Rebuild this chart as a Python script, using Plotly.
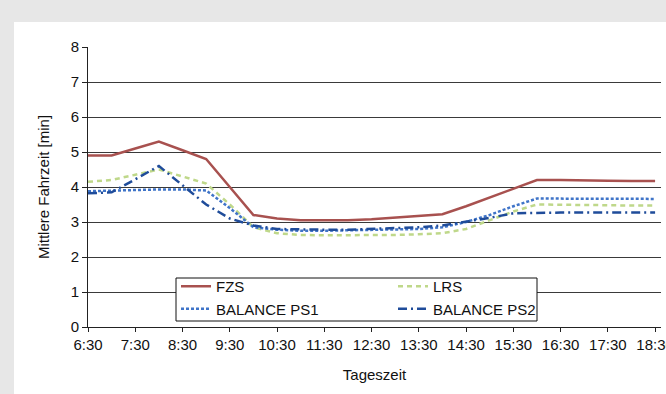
import plotly.graph_objects as go

# Half-hourly time of day, 6:30 .. 18:30
times = ["6:30", "7:00", "7:30", "8:00", "8:30", "9:00", "9:30", "10:00", "10:30",
         "11:00", "11:30", "12:00", "12:30", "13:00", "13:30", "14:00", "14:30",
         "15:00", "15:30", "16:00", "16:30", "17:00", "17:30", "18:00", "18:30"]
tick_labels = times[::2]

# Mean travel time [min] per strategy
fzs = [4.9, 4.9, 5.1, 5.3, 5.05, 4.8, 4.0, 3.2, 3.1, 3.05, 3.05, 3.05, 3.08,
       3.12, 3.17, 3.22, 3.45, 3.7, 3.95, 4.2, 4.2, 4.2, 4.18, 4.17, 4.17]
lrs = [4.15, 4.2, 4.35, 4.5, 4.3, 4.1, 3.5, 2.85, 2.68, 2.63, 2.62, 2.62, 2.63,
       2.63, 2.65, 2.68, 2.8, 3.05, 3.3, 3.5, 3.5, 3.48, 3.48, 3.47, 3.47]
ps1 = [3.88, 3.9, 3.92, 3.93, 3.93, 3.9, 3.4, 2.85, 2.78, 2.75, 2.75, 2.76, 2.77,
       2.78, 2.8, 2.85, 3.0, 3.2, 3.45, 3.67, 3.67, 3.67, 3.66, 3.66, 3.66]
ps2 = [3.82, 3.85, 4.22, 4.6, 4.05, 3.5, 3.1, 2.9, 2.8, 2.78, 2.78, 2.78, 2.8,
       2.82, 2.85, 2.9, 3.0, 3.12, 3.25, 3.27, 3.27, 3.27, 3.27, 3.27, 3.27]

FONT = "Liberation Sans, Arial, sans-serif"
FS = 15

fig = go.Figure()
fig.add_trace(go.Scatter(x=times, y=fzs, name="FZS", mode="lines",
                         line=dict(color="#a8514f", width=2.5)))
fig.add_trace(go.Scatter(x=times, y=lrs, name="LRS", mode="lines",
                         line=dict(color="#bfd88a", width=2.5, dash="5px,4px")))
fig.add_trace(go.Scatter(x=times, y=ps1, name="BALANCE PS1", mode="lines",
                         line=dict(color="#3f74c8", width=2.5, dash="3px,2px")))
fig.add_trace(go.Scatter(x=times, y=ps2, name="BALANCE PS2", mode="lines",
                         line=dict(color="#1f4c9a", width=2.5, dash="9px,4px,2px,4px")))

L, R, T, B = 88, 5, 47, 67
W, H = 666, 394
pw, ph = W - L - R, H - T - B
base = H - B  # pixel row of the x axis


def px_x(x):
    return (x - L) / pw


def px_y(y):
    return (base - y) / ph


# White page area over the grey frame
fig.add_shape(type="rect", xref="paper", yref="paper", layer="below",
              x0=px_x(14), x1=px_x(W + 5), y0=px_y(H + 5), y1=px_y(22),
              fillcolor="white", line=dict(width=0))
# Legend frame
fig.add_shape(type="rect", xref="paper", yref="paper", layer="above",
              x0=px_x(176), x1=px_x(537), y0=px_y(321), y1=px_y(278),
              fillcolor="white", line=dict(color="#111", width=1))

fig.update_layout(
    template="none",
    width=W, height=H,
    margin=dict(l=L, r=R, t=T, b=B, pad=0),
    paper_bgcolor="#e7e7e7",
    plot_bgcolor="white",
    font=dict(family=FONT, size=FS, color="#111"),
    showlegend=True,
    legend=dict(
        orientation="h",
        x=px_x(176), y=px_y(270),
        xanchor="left", yanchor="top",
        bgcolor="rgba(0,0,0,0)", borderwidth=0,
        entrywidth=172, entrywidthmode="pixels",
        font=dict(family=FONT, size=FS, color="#111"),
        tracegroupgap=0, itemwidth=30,
    ),
    xaxis=dict(
        type="category",
        range=[0, 24.25],
        tickmode="array", tickvals=tick_labels, ticktext=tick_labels,
        showgrid=False, zeroline=False,
        showline=True, linecolor="#222", linewidth=1,
        ticks="outside", ticklen=4, tickcolor="#222",
        tickfont=dict(size=FS),
        automargin=False,
        title=dict(text="Tageszeit", font=dict(size=FS), standoff=17),
    ),
    yaxis=dict(
        range=[0, 8], dtick=1,
        showgrid=True, gridcolor="#3a3a3a", gridwidth=1,
        zeroline=False,
        showline=True, linecolor="#222", linewidth=1,
        ticks="outside", ticklen=5, tickcolor="#222",
        tickfont=dict(size=FS),
        automargin=False,
        title=dict(text="Mittlere Fahrzeit [min]", font=dict(size=FS), standoff=17),
    ),
)

fig.write_html("out.html")
